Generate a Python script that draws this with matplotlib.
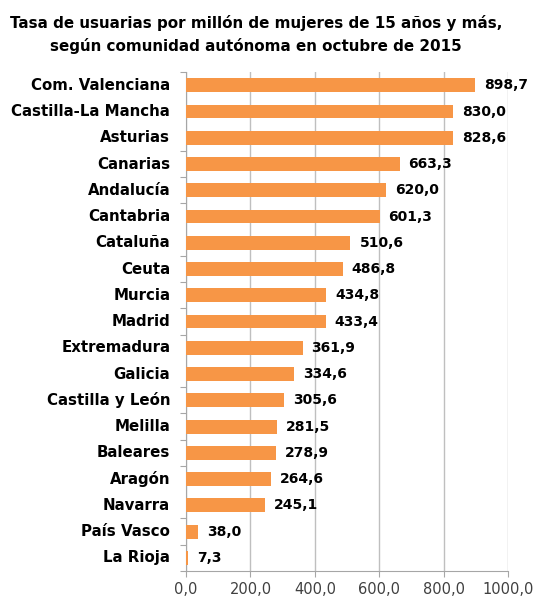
import numpy as np
from matplotlib import pyplot as plt

regions = ['Com. Valenciana', 'Castilla-La Mancha', 'Asturias', 'Canarias', 'Andalucía',
           'Cantabria', 'Cataluña', 'Ceuta', 'Murcia', 'Madrid', 'Extremadura', 'Galicia',
           'Castilla y León', 'Melilla', 'Baleares', 'Aragón', 'Navarra', 'País Vasco', 'La Rioja']
rates = [898.7, 830.0, 828.6, 663.3, 620.0, 601.3, 510.6, 486.8, 434.8, 433.4,
         361.9, 334.6, 305.6, 281.5, 278.9, 264.6, 245.1, 38.0, 7.3]
xticks = [0, 200, 400, 600, 800, 1000]
# category boundaries that show a tick mark in the original
boundary_ticks = [0, 3, 4, 5, 7, 8, 9, 10, 12, 13, 14, 15, 17, 18, 19]

plt.rcParams['font.family'] = ['DejaVu Sans']

fig = plt.figure(figsize=(5.38, 6.01), dpi=100)
ax = fig.add_axes([0.346, 0.05, 0.598, 0.83])

y = np.arange(len(regions))
ax.barh(y, rates, height=0.53, color='#F79646', zorder=3)
ax.set_ylim(len(regions) - 0.5, -0.5)
ax.set_xlim(0, 1000)

for yi, v in zip(y, rates):
    ax.text(v + 28, yi, f'{v:.1f}'.replace('.', ','), va='center', ha='left',
            fontsize=10, fontweight='bold', color='black')

ax.set_xticks(xticks)
ax.set_xticklabels([f'{t:.1f}'.replace('.', ',') for t in xticks], fontsize=10.5, color='#404040')
ax.grid(axis='x', color='#BFBFBF', linewidth=1, zorder=0)

ax.set_yticks(np.array(boundary_ticks) - 0.5, minor=False)
ax.set_yticklabels([])
ax.set_yticks(y, minor=True)
ax.set_yticklabels(regions, minor=True, fontsize=10.8, fontweight='bold', va='center')
ax.tick_params(axis='y', which='minor', length=0, pad=11.5)
ax.tick_params(axis='y', which='major', length=4.5, color='#A6A6A6')
ax.tick_params(axis='x', length=4.5, color='#A6A6A6')

for side in ['top', 'right']:
    ax.spines[side].set_visible(False)
ax.spines['left'].set_color('#A6A6A6')
ax.spines['bottom'].set_color('#A6A6A6')

fig.text(0.476, 0.975, 'Tasa de usuarias por millón de mujeres de 15 años y más,\n'
         'según comunidad autónoma en octubre de 2015',
         ha='center', va='top', fontsize=10.9, fontweight='bold', linespacing=1.5)

fig.savefig('out.png', dpi=100)
